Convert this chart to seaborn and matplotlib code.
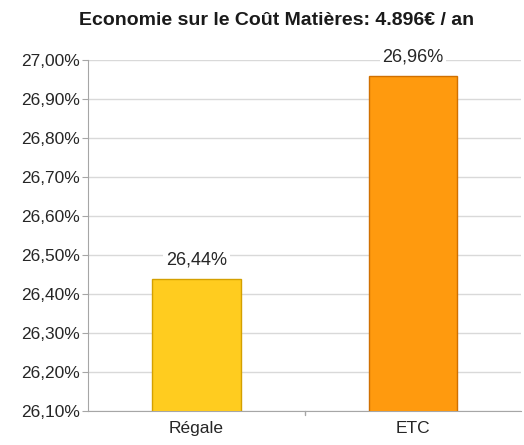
import matplotlib
matplotlib.use("Agg")
import matplotlib.pyplot as plt
import seaborn as sns
import pandas as pd
from matplotlib.ticker import FuncFormatter

categories = ["Régale", "ETC"]
values = [26.44, 26.96]
colors = ["#FFCC1F", "#FF9A0E"]
edges = ["#D4A000", "#D07000"]
title = "Economie sur le Coût Matières: 4.896€ / an"

sns.set_style("white")
plt.rcParams["font.family"] = ["Liberation Sans", "DejaVu Sans"]

df = pd.DataFrame({"cat": categories, "val": values})

fig = plt.figure(figsize=(5.24, 4.45), dpi=100)
ax = fig.add_axes([0.168, 0.076, 0.827, 0.789])

sns.barplot(data=df, x="cat", y="val", hue="cat", palette=colors, saturation=1, legend=False,
            width=0.41, linewidth=1, ax=ax, zorder=3)
for p, ec in zip(ax.patches, edges):
    p.set_edgecolor(ec)

ax.set_ylim(26.10, 27.00)
ax.set_yticks([26.10 + 0.1 * i for i in range(10)])
ax.yaxis.set_major_formatter(FuncFormatter(lambda v, p: f"{v:.2f}%".replace(".", ",")))
ax.yaxis.grid(True, color="#D9D9D9", linewidth=1, zorder=0)
ax.set_xlabel("")
ax.set_ylabel("")
for s in ["top", "right"]:
    ax.spines[s].set_visible(False)
for s in ["left", "bottom"]:
    ax.spines[s].set_color("#A6A6A6")
ax.tick_params(axis="y", labelsize=12.5, length=4, color="#A6A6A6", left=True, pad=2,
               labelcolor="#262626")
ax.tick_params(axis="x", labelsize=12.5, length=0, pad=7, labelcolor="#262626")
ax.set_xticks([0, 1])
ax.set_xlim(-0.5, 1.5)
# separator tick between categories
ax.plot([0.5, 0.5], [0, -0.012], transform=ax.get_xaxis_transform(), color="#A6A6A6",
        lw=1, clip_on=False)

for i, v in enumerate(values):
    ax.annotate(f"{v:.2f}%".replace(".", ","), (i, v), xytext=(0, 7), textcoords="offset points",
                ha="center", va="bottom", fontsize=13, color="#262626",
                bbox=dict(boxstyle="square,pad=0.15", fc="white", ec="none"), zorder=5,
                annotation_clip=False)

fig.text(0.527, 0.955, title, ha="center", va="center", fontsize=14, fontweight="bold",
         color="#1A1A1A")
fig.savefig("out.png", dpi=100)
